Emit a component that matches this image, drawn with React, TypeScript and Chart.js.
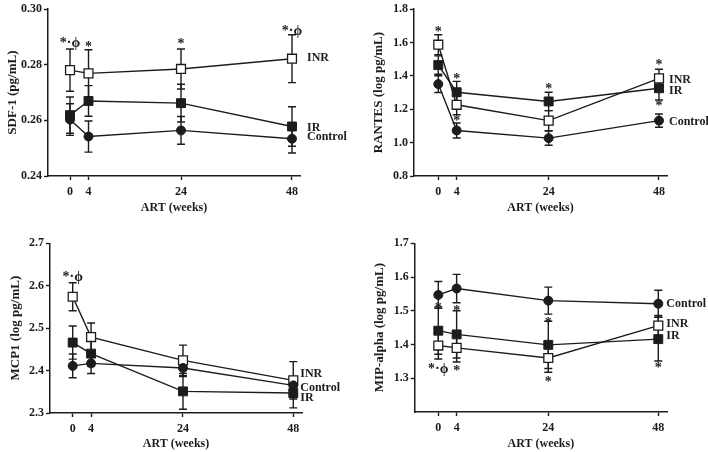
import React, { useEffect, useRef } from "react";
import { Chart, registerables } from "chart.js";

Chart.register(...registerables);

const weeks = [0, 4, 24, 48];

// SDF-1
const sdfControl = [0.2603, 0.2542, 0.2564, 0.2534];
const sdfIR = [0.2619, 0.267, 0.2662, 0.2578];
const sdfINR = [0.2781, 0.2769, 0.2785, 0.2822];
const sdfControlErr = [0.0057, 0.0056, 0.005, 0.0051];
const sdfIRErr = [0.0065, 0.0055, 0.0068, 0.0071];
const sdfINRErr = [0.0076, 0.0085, 0.0072, 0.0086];
const sdfTicks = [0.24, 0.26, 0.28, 0.3];
const sdfStars = [
  { week: 0, value: 0.2883, text: "*·ϕ" },
  { week: 4, value: 0.2871, text: "*" },
  { week: 24, value: 0.288, text: "*" },
  { week: 48, value: 0.2928, text: "*·ϕ" },
];
const sdfLabels = [
  { text: "INR", value: 0.2823 },
  { text: "IR", value: 0.2574 },
  { text: "Control", value: 0.2539 },
];

// RANTES
const rantesControl = [1.351, 1.073, 1.027, 1.132];
const rantesIR = [1.465, 1.302, 1.247, 1.326];
const rantesINR = [1.587, 1.227, 1.132, 1.385];
const rantesControlErr = [0.05, 0.045, 0.043, 0.04];
const rantesIRErr = [0.055, 0.065, 0.055, 0.07];
const rantesINRErr = [0.06, 0.06, 0.06, 0.055];
const rantesTicks = [0.8, 1.0, 1.2, 1.4, 1.6, 1.8];
const rantesStars = [
  { week: 0, value: 1.674, text: "*" },
  { week: 4, value: 1.392, text: "*" },
  { week: 4, value: 1.141, text: "*" },
  { week: 24, value: 1.333, text: "*" },
  { week: 48, value: 1.476, text: "*" },
  { week: 48, value: 1.23, text: "*" },
];
const rantesLabels = [
  { text: "INR", value: 1.374 },
  { text: "IR", value: 1.309 },
  { text: "Control", value: 1.125 },
];

// MCP1
const mcpControl = [2.411, 2.417, 2.406, 2.365];
const mcpIR = [2.466, 2.44, 2.351, 2.347];
const mcpINR = [2.574, 2.479, 2.424, 2.377];
const mcpControlErr = [0.028, 0.024, 0.02, 0.02];
const mcpIRErr = [0.039, 0.03, 0.042, 0.035];
const mcpINRErr = [0.033, 0.033, 0.036, 0.044];
const mcpTicks = [2.3, 2.4, 2.5, 2.6, 2.7];
const mcpStars = [{ week: 0, value: 2.624, text: "*·ϕ" }];
const mcpLabels = [
  { text: "INR", value: 2.391 },
  { text: "Control", value: 2.359 },
  { text: "IR", value: 2.335 },
];

// MIP-alpha
const mipControl = [1.547, 1.566, 1.53, 1.521];
const mipIR = [1.441, 1.43, 1.399, 1.416];
const mipINR = [1.397, 1.39, 1.36, 1.456];
const mipControlErr = [0.04, 0.042, 0.04, 0.04];
const mipIRErr = [0.07, 0.07, 0.07, 0.065];
const mipINRErr = [0.04, 0.042, 0.042, 0.03];
const mipTicks = [1.3, 1.4, 1.5, 1.6, 1.7];
const mipStars = [
  { week: 0, value: 1.331, text: "*·ϕ" },
  { week: 0, value: 1.514, text: "*" },
  { week: 4, value: 1.504, text: "*" },
  { week: 4, value: 1.327, text: "*" },
  { week: 24, value: 1.47, text: "*" },
  { week: 24, value: 1.294, text: "*" },
  { week: 48, value: 1.336, text: "*" },
];
const mipLabels = [
  { text: "Control", value: 1.521 },
  { text: "INR", value: 1.46 },
  { text: "IR", value: 1.425 },
];

const INK = "#1c1c1c";
const FONT = "'Liberation Serif', 'Times New Roman', serif";

const extrasPlugin = {
  id: "extras",
  beforeDatasetsDraw(chart: any) {
    const ctx = chart.ctx;
    const xs = chart.scales.x;
    const ys = chart.scales.y;
    ctx.save();
    ctx.strokeStyle = INK;
    ctx.lineWidth = 1.4;
    chart.data.datasets.forEach((ds: any) => {
      const errs = ds.errors;
      if (!errs) return;
      ds.data.forEach((p: any, i: number) => {
        const x = xs.getPixelForValue(p.x);
        const y1 = ys.getPixelForValue(p.y + errs[i]);
        const y2 = ys.getPixelForValue(p.y - errs[i]);
        ctx.beginPath();
        ctx.moveTo(x, y1);
        ctx.lineTo(x, y2);
        ctx.moveTo(x - 4, y1);
        ctx.lineTo(x + 4, y1);
        ctx.moveTo(x - 4, y2);
        ctx.lineTo(x + 4, y2);
        ctx.stroke();
      });
    });
    ctx.restore();
  },
  afterDatasetsDraw(chart: any, _args: any, opts: any) {
    const ctx = chart.ctx;
    const xs = chart.scales.x;
    const ys = chart.scales.y;
    ctx.save();
    ctx.fillStyle = INK;
    ctx.textAlign = "center";
    ctx.textBaseline = "middle";
    ctx.font = `bold 14px ${FONT}`;
    (opts.stars || []).forEach((s: any) => {
      ctx.fillText(s.text, xs.getPixelForValue(s.week), ys.getPixelForValue(s.value) + 2);
    });
    ctx.textAlign = "left";
    ctx.font = `bold 12px ${FONT}`;
    const lastWeek = weeks[weeks.length - 1];
    (opts.labels || []).forEach((l: any) => {
      ctx.fillText(l.text, xs.getPixelForValue(lastWeek) + opts.labelDx, ys.getPixelForValue(l.value));
    });
    ctx.restore();
  },
};

type PanelProps = {
  control: number[];
  ir: number[];
  inr: number[];
  controlErr: number[];
  irErr: number[];
  inrErr: number[];
  ticks: number[];
  stars: any[];
  labels: any[];
  yMin: number;
  yMax: number;
  xMin: number;
  xMax: number;
  decimals: number;
  yTitle: string;
  left: number;
  top: number;
  xHeight: number;
  bottomPad: number;
  rightPad: number;
  yTitlePad: number;
  labelDx: number;
  posX: number;
  posY: number;
};

function Panel(p: PanelProps) {
  const ref = useRef<HTMLCanvasElement>(null);
  useEffect(() => {
    if (!ref.current) return;
    const pts = (vals: number[]) => weeks.map((w, i) => ({ x: w, y: vals[i] }));
    const chart = new Chart(ref.current, {
      type: "line",
      data: {
        datasets: [
          {
            label: "Control",
            data: pts(p.control),
            errors: p.controlErr,
            borderColor: INK,
            borderWidth: 1.4,
            pointStyle: "circle",
            pointRadius: 4.5,
            pointBackgroundColor: INK,
            pointBorderColor: INK,
            pointBorderWidth: 1,
          } as any,
          {
            label: "IR",
            data: pts(p.ir),
            errors: p.irErr,
            borderColor: INK,
            borderWidth: 1.4,
            pointStyle: "rect",
            pointRadius: 6.3,
            pointBackgroundColor: INK,
            pointBorderColor: INK,
            pointBorderWidth: 1,
          } as any,
          {
            label: "INR",
            data: pts(p.inr),
            errors: p.inrErr,
            borderColor: INK,
            borderWidth: 1.4,
            pointStyle: "rect",
            pointRadius: 6.3,
            pointBackgroundColor: "#ffffff",
            pointBorderColor: INK,
            pointBorderWidth: 1.3,
          } as any,
        ],
      },
      options: {
        responsive: false,
        animation: false,
        events: [],
        layout: { padding: { left: 0, top: p.top, right: p.rightPad, bottom: p.bottomPad } },
        plugins: {
          legend: { display: false },
          tooltip: { enabled: false },
          extras: { stars: p.stars, labels: p.labels, labelDx: p.labelDx },
        } as any,
        scales: {
          x: {
            type: "linear",
            min: p.xMin,
            max: p.xMax,
            afterBuildTicks: (axis: any) => {
              axis.ticks = weeks.map((w) => ({ value: w }));
            },
            afterFit: (axis: any) => {
              axis.height = p.xHeight;
            },
            ticks: {
              color: INK,
              font: { family: FONT, size: 12, weight: "bold" },
              padding: 5,
              maxRotation: 0,
              autoSkip: false,
              callback: (v: any) => String(v),
            },
            grid: {
              display: true,
              drawOnChartArea: false,
              drawTicks: true,
              tickLength: 4,
              color: INK,
              tickWidth: 1.4,
            },
            border: { display: true, color: INK, width: 1.5 },
            title: {
              display: true,
              text: "ART (weeks)",
              color: INK,
              font: { family: FONT, size: 12, weight: "bold" },
              padding: { top: 0, bottom: 1 },
            },
          },
          y: {
            type: "linear",
            min: p.yMin,
            max: p.yMax,
            afterBuildTicks: (axis: any) => {
              axis.ticks = p.ticks.map((t) => ({ value: t }));
            },
            afterFit: (axis: any) => {
              axis.width = p.left;
            },
            ticks: {
              color: INK,
              font: { family: FONT, size: 12, weight: "bold" },
              padding: 2,
              callback: (v: any) => Number(v).toFixed(p.decimals),
            },
            grid: {
              display: true,
              drawOnChartArea: false,
              drawTicks: true,
              tickLength: 4,
              color: INK,
              tickWidth: 1.4,
            },
            border: { display: true, color: INK, width: 1.5 },
            title: {
              display: true,
              text: p.yTitle,
              color: INK,
              font: { family: FONT, size: 13, weight: "bold" },
              padding: { top: p.yTitlePad, bottom: 0 },
            },
          },
        },
      },
      plugins: [extrasPlugin as any],
    } as any);
    return () => chart.destroy();
  }, []);
  return (
    <canvas
      ref={ref}
      width={354}
      height={226}
      style={{ position: "absolute", left: p.posX, top: p.posY, width: 354, height: 226 }}
    />
  );
}

export default function App() {
  return (
    <div style={{ position: "absolute", left: 0, top: 0, width: 708, height: 452, background: "#ffffff" }}>
      <Panel
        control={sdfControl}
        ir={sdfIR}
        inr={sdfINR}
        controlErr={sdfControlErr}
        irErr={sdfIRErr}
        inrErr={sdfINRErr}
        ticks={sdfTicks}
        stars={sdfStars}
        labels={sdfLabels}
        yMin={0.24}
        yMax={0.3}
        xMin={-4.76}
        xMax={49.73}
        decimals={2}
        yTitle="SDF-1 (pg/mL)"
        left={48}
        top={7}
        xHeight={40}
        bottomPad={10}
        rightPad={54}
        yTitlePad={5}
        labelDx={15}
        posX={0}
        posY={0}
      />
      <Panel
        control={rantesControl}
        ir={rantesIR}
        inr={rantesINR}
        controlErr={rantesControlErr}
        irErr={rantesIRErr}
        inrErr={rantesINRErr}
        ticks={rantesTicks}
        stars={rantesStars}
        labels={rantesLabels}
        yMin={0.8}
        yMax={1.8}
        xMin={-5.28}
        xMax={49.74}
        decimals={1}
        yTitle="RANTES (log pg/mL)"
        left={60}
        top={7}
        xHeight={40}
        bottomPad={10}
        rightPad={41}
        yTitlePad={17}
        labelDx={10}
        posX={354}
        posY={0}
      />
      <Panel
        control={mcpControl}
        ir={mcpIR}
        inr={mcpINR}
        controlErr={mcpControlErr}
        irErr={mcpIRErr}
        inrErr={mcpINRErr}
        ticks={mcpTicks}
        stars={mcpStars}
        labels={mcpLabels}
        yMin={2.3}
        yMax={2.7}
        xMin={-4.94}
        xMax={49.9}
        decimals={1}
        yTitle="MCP1 (log pg/mL)"
        left={50}
        top={17.3}
        xHeight={39}
        bottomPad={0}
        rightPad={52}
        yTitlePad={8}
        labelDx={7}
        posX={0}
        posY={226}
      />
      <Panel
        control={mipControl}
        ir={mipIR}
        inr={mipINR}
        controlErr={mipControlErr}
        irErr={mipIRErr}
        inrErr={mipINRErr}
        ticks={mipTicks}
        stars={mipStars}
        labels={mipLabels}
        yMin={1.2}
        yMax={1.7}
        xMin={-5.15}
        xMax={49.9}
        decimals={1}
        yTitle="MIP-alpha (log pg/mL)"
        left={60.7}
        top={17.3}
        xHeight={40}
        bottomPad={0}
        rightPad={41}
        yTitlePad={18}
        labelDx={8}
        posX={354}
        posY={226}
      />
    </div>
  );
}
